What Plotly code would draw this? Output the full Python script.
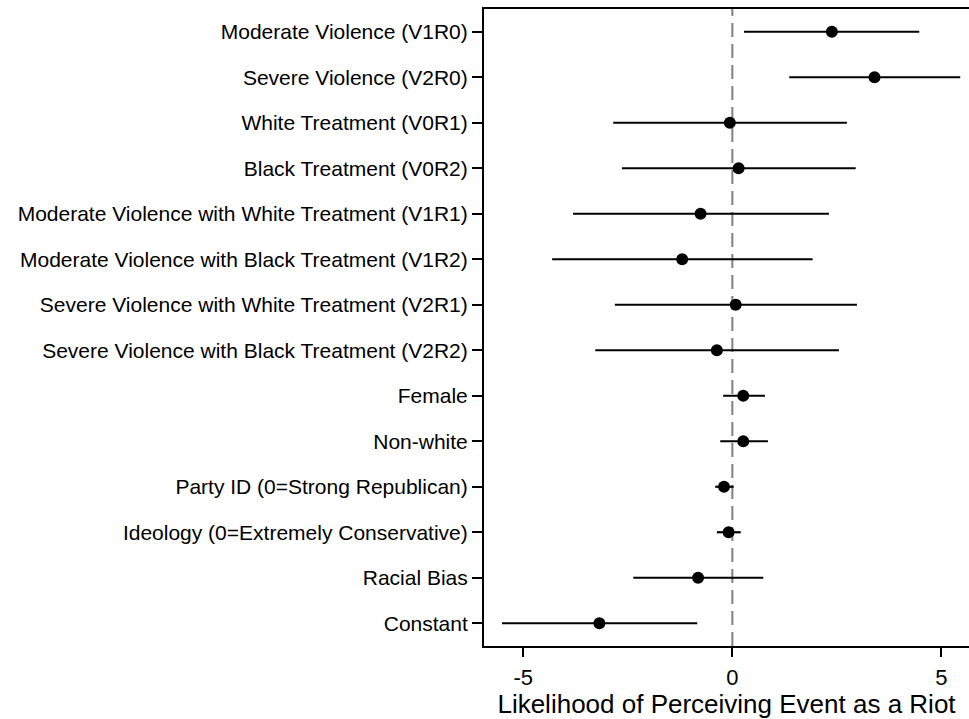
import plotly.graph_objects as go

labels = [
    "Moderate Violence (V1R0)",
    "Severe Violence (V2R0)",
    "White Treatment (V0R1)",
    "Black Treatment (V0R2)",
    "Moderate Violence with White Treatment (V1R1)",
    "Moderate Violence with Black Treatment (V1R2)",
    "Severe Violence with White Treatment (V2R1)",
    "Severe Violence with Black Treatment (V2R2)",
    "Female",
    "Non-white",
    "Party ID (0=Strong Republican)",
    "Ideology (0=Extremely Conservative)",
    "Racial Bias",
    "Constant",
]
estimates = [2.38, 3.40, -0.06, 0.15, -0.76, -1.20, 0.08, -0.37, 0.26, 0.26, -0.20, -0.09, -0.82, -3.18]
ci_low = [0.28, 1.36, -2.85, -2.64, -3.81, -4.31, -2.81, -3.28, -0.22, -0.29, -0.41, -0.37, -2.37, -5.51]
ci_high = [4.47, 5.45, 2.74, 2.95, 2.31, 1.92, 2.98, 2.55, 0.78, 0.85, 0.03, 0.20, 0.74, -0.84]
x_ticks = [-5, 0, 5]
x_title = "Likelihood of Perceiving Event as a Riot"

pos = list(range(1, len(labels) + 1))

fig = go.Figure()
for p, lo, hi in zip(pos, ci_low, ci_high):
    fig.add_trace(go.Scatter(x=[lo, hi], y=[p, p], mode="lines",
                             line=dict(color="black", width=2.2),
                             showlegend=False, hoverinfo="skip"))
fig.add_trace(go.Scatter(x=estimates, y=pos, mode="markers",
                         marker=dict(color="black", size=12),
                         showlegend=False))

fig.add_shape(type="line", xref="x", yref="paper", x0=0, x1=0, y0=0, y1=1,
              line=dict(color="#808080", width=2, dash="14px,7px"), layer="below")

fig.update_layout(
    width=969, height=719,
    margin=dict(l=484, r=0, t=9, b=73),
    plot_bgcolor="white", paper_bgcolor="white",
    font=dict(family="Liberation Sans, Arial, sans-serif", color="black"),
    xaxis=dict(range=[-5.94, 5.66], tickvals=x_ticks, ticktext=[str(t) for t in x_ticks],
               showgrid=False, zeroline=False, showline=True, linecolor="black", linewidth=2,
               mirror=True, ticks="outside", ticklen=9, tickwidth=2, tickcolor="black",
               tickfont=dict(size=22), ticklabelstandoff=2,
               title=dict(text=x_title, font=dict(size=26), standoff=2)),
    yaxis=dict(range=[14.5, 0.5], tickvals=pos, ticktext=labels,
               showgrid=False, zeroline=False, showline=True, linecolor="black", linewidth=2,
               ticks="outside", ticklen=10, tickwidth=1.5, tickcolor="black",
               tickfont=dict(size=21)),
)

fig.write_html("out.html", config={"displayModeBar": False},
               post_script="document.body.style.margin='0';")
